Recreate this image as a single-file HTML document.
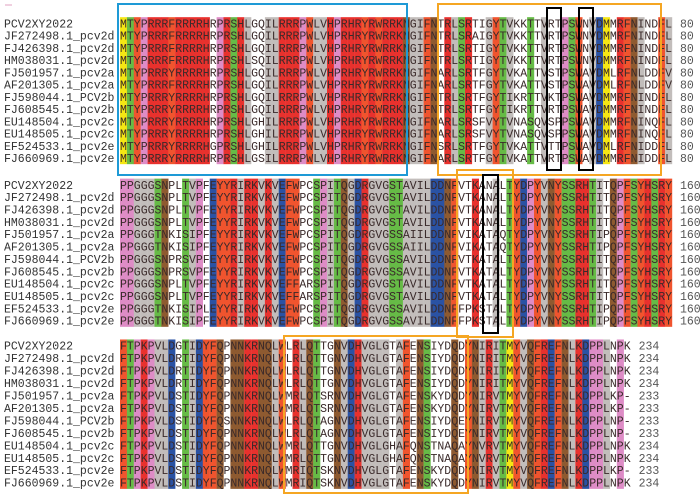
<!DOCTYPE html>
<html><head><meta charset="utf-8">
<style>
html,body{margin:0;padding:0;background:#fff;}
svg{display:block;font-family:"Liberation Mono",monospace;}
</style></head>
<body>
<svg id="aln" width="700" height="497" viewBox="0 0 700 497" xmlns="http://www.w3.org/2000/svg">
<rect x="0" y="0" width="700" height="497" fill="#fff"/>
<line x1="5" y1="5" x2="12" y2="5" stroke="#e0a0c0" stroke-width="1"/>
<g id="cells"></g>
<g id="texts"></g>
<g id="boxes"></g>
</svg>
<script>
const names = ["PCV2XY2022","JF272498.1_pcv2d","FJ426398.1_pcv2d","HM038031.1_pcv2d","FJ501957.1_pcv2a","AF201305.1_pcv2a","FJ598044.1_PCV2b","FJ608545.1_pcv2b","EU148504.1_pcv2c","EU148505.1_pcv2c","EF524533.1_pcv2e","FJ660969.1_pcv2e"];
const block1 = [
"MTYPRRRFRRRRHRPRSHLGQILRRRPWLVHPRHRYRWRRKNGIFNTRLSRTIGYTVKKTTVRTPSWNVDMMRFNINDFL",
"MTYPRRRFRRRRHRPRSHLGQILRRRPWLVHPRHRYRWRRKNGIFNTRLSRAIGYTVKKTTVRTPSWNVDMMRFNINDFL",
"MTYPRRRFRRRRHRPRSHLGQILRRRPWLVHPRHRYRWRRKNGIFNTRLSRTIGYTVKKTTVRTPSWNVDMMRFNINDFL",
"MTYPRRRFRRRRHRPRSHLSQILRRRPWLVHPRHRYRWRRKNGIFNTRLSRTIGYTVKKTTVRTPSWNVDMMRFNINDFL",
"MTYPRRRYRRRRHRPRSHLGQILRRRPWLVHPRHRYRWRRKNGIFNARLSRTFGYTVKATTVSTPSWAVDMLRFNLDDFV",
"MTYPRRRFRRRRHRPRSHLGQILRRRPWLVHPRHRYRWRRKNGIFNARLSRTFGYTVKATTVSTPSWAVDMLRFNLDDFV",
"MTYPRRRYRRRRHRPRSHLGQILRRRPWLVHPRHRYRWRRKNGIFNTRLSRTFGYTIKRTTVKTPSWAVDMMRFNINDFL",
"MTYPRRRYRRRRHRPRSHLGQILRRRPWLVHPRHRYRWRRKNGIFNTRLSRTFGYTIKRTTVRTPSWAVDMMRFNINDFL",
"MTYPRRRYRRRRHRPRSHLGHILRRRPWLVHPRHRYRWRRKNGIFNARLSRSFVYTVNASQVSPPSWAVDMMRFNINQFL",
"MTYPRRRYRRRRHRPRSHLGHILRRRPWLVHPRHRYRWRRKNGIFNARLSRSFVYTVNASQVSPPSWAVDMMRFNINQFL",
"MTYPRRRYRRRRHGPRSHLGHILRRRPWLVHPRHRYRWRRKNGIFNSRLSRTFGYTVKATTVTTPSWAVDMLRFNIDDFL",
"MTYPRRRYRRRRHRPRSHLGSILRRRPWLVHPRHRYRWRRKNGIFNARLSRTFGYTVKATTVRTPSWAVDMMRFNIDDFL"];
const block2 = [
"PPGGGSNPLTVPFEYYRIRKVKVEFWPCSPITQGDRGVGSTAVILDDNFVTKANALTYDPYVNYSSRHTITQPFSYHSRY",
"PPGGGSNPLTVPFEYYRIRKVKVEFWPCSPITQGDRGVGSTAVILDDNFVTKANALTYDPYVNYSSRHTITQPFSYHSRY",
"PPGGGSNPLTVPFEYYRIRKVKVEFWPCSPITQGDRGVGSTAVILDDNFVTKANALTYDPYVNYSSRHTITQPFSYHSRY",
"PPGGGSNPLTVPFEYYRIRKVKVEFWPCSPITQGDRGVGSTAVILDDNFVTKANALTYDPYVNYSSRHTITQPFSYHSRY",
"PPGGGTNKISIPFEYYRIRKVKVEFWPCSPITQGDRGVGSSAIILDDNFVIKATAQTYDPYVNYSSRHTIPQPFSYHSRY",
"PPGGGTNKISIPFEYYRIRKVKVEFWPCSPITQGDRGVGSSAIILDDNFVIKATAQTYDPYVNYSSRHTIPQPFSYHSRY",
"PPGGGSNPRSVPFEYYRIRKVKVEFWPCSPITQGDRGVGSSAVILDDNFVTKATALTYDPYVNYSSRHTITQPFSYHSRY",
"PPGGGSNPRSVPFEYYRIRKVKVEFWPCSPITQGDRGVGSSAVILDDNFVTKATALTYDPYVNYSSRHTITQPFSYHSRY",
"PPGGGSNPLTVPFEYYRIRKVKVEFFARSPITQGDRGVGSTAVILDDNFVTKATALTYDPYVNYSSRHTITQPFSYHSRY",
"PPGGGSNPLTVPFEYYRIRKVKVEFFARSPITQGDRGVGSTAVILDDNFVTKATALTYDPYVNYSSRHTITQPFSYHSRY",
"PPGGGTNKISIPLEYYRIRKVKVEFWPCSPITQGDRGVGSSAVILDDNFFPKSTALTYDPYVNYSSRHTIPQPFSYHSRY",
"PPGGGTNKISIPFEYYRIRKVKVEFWPCSPITQGDRGVGSSAVILDDNFFPKSTALTYDPYVNYSSRHTIPQPFSYHSRY"];
const block3 = [
"FTPKPVLDGTIDYFQPNNKRNQLWLRLQTTGNVDHVGLGTAFENSIYDQDYNIRITMYVQFREFNLKDPPLNPK",
"FTPKPVLDRTIDYFQPNNKRNQLWLRLQTTGNVDHVGLGTAFENSIYDQDYNIRITMYVQFREFNLKDPPLNPK",
"FTPKPVLDRTIDYFQPNNKRNQLWLRLQTTGNVDHVGLGTAFENSIYDQDYNIRITMYVQFREFNLKDPPLNPK",
"FTPKPVLDRTIDYFQPNNKRNQLWLRLQTTGNVDHVGLGTAFENSIYDQDYNIRITMYVQFREFNLKDPPLNPK",
"FTPKPVLDSTIDYFQPNNKRNQLWMRLQTSRNVDHVGLGTAFENSKYDQDYNIRVTMYVQFREFNLKDPPLKP-",
"FTPKPVLDSTIDYFQPNNKRNQLWMRLQTSRNVDHVGLGTAFENSKYDQDYNIRVTMYVQFREFNLKDPPLKP-",
"FTPKPVLDSTIDYFQSNNKRNQLWLRLQTAGNVDHVGLGTAFENSIYDQEYNIRVTMYVQFREFNLKDPPLNP-",
"FTPKPVLDSTIDYFQPNNKRNQLWLRLQTAGNVDHVGLGTAFENSIYDQEYNIRVTMYVQFREFNLKDPPLNP-",
"FTPKPVLDSTIDYFQPNNKRNQLWMRLQTTGNVDHVGLGHAFQNSTNAQAYNVRVTMYVQFREFNLKDPPLNPK",
"FTPKPVLDSTIDYFQPNNKRNQLWMRLQTTGNVDHVGLGHAFQNSTNAQAYNVRVTMYVQFREFNLKDPPLNPK",
"FTPKPVLDSTIDYFQPNNKRNQLWMRIQTSKNVDHVGLGTAFENSKYDQDYNIRVTMYVQFREFNLKDPPLKP-",
"FTPKPVLDSTIDYFQPNNKRNQLWMRIQTSKNVDHVGLGTAFENSKYDQDYNIRVTMYVQFREFNLKDPPLNPK"];
const ends = [["80","80","80","80","80","80","80","80","80","80","80","80"],
["160","160","160","160","160","160","160","160","160","160","160","160"],
["234","234","234","234","233","233","233","233","234","234","233","234"]];
const blockTops = [23.3, 184.8, 345.7];
const rowSteps = [12.25, 12.35, 12.45];

const CW = 6.9, X0 = 120;
const groups = {R:"r",K:"r",H:"r",F:"o",Y:"o",W:"o",I:"g",L:"g",V:"g",A:"g",G:"g",M:"y",N:"b",Q:"b",D:"d",E:"d",S:"s",T:"s",P:"p",C:"w"};
const gcol = {r:"#e8312d",o:"#f0542e",g:"#c2bdbb",y:"#f5e614",b:"#8e5a30",d:"#2a52a4",s:"#66bb46",p:"#de8cc6"};
const NS="http://www.w3.org/2000/svg";
const cells=document.getElementById('cells'), texts=document.getElementById('texts');
[block1,block2,block3].forEach((blk,bi)=>{
  const len=blk[0].length;
  for(let c=0;c<len;c++){
    const g0=groups[blk[0][c]];
    if(!g0||g0==="w") continue;
    let same=true;
    for(let r=0;r<blk.length;r++){ if(groups[blk[r][c]]!==g0){same=false;break;} }
    if(!same) continue;
    const rc=document.createElementNS(NS,'rect');
    rc.setAttribute('x',X0+c*CW); rc.setAttribute('width',CW+0.2);
    rc.setAttribute('y',blockTops[bi]-rowSteps[bi]/2); rc.setAttribute('height',rowSteps[bi]*12);
    rc.setAttribute('fill',gcol[g0]);
    
    
    cells.appendChild(rc);
  }
  blk.forEach((seq,ri)=>{
    const y=blockTops[bi]+ri*rowSteps[bi]+4;
    const nm=document.createElementNS(NS,'text');
    nm.setAttribute('x',4); nm.setAttribute('y',y); nm.setAttribute('font-size','11.5'); nm.setAttribute('fill','#333');
    nm.textContent=names[ri];
    
    
    texts.appendChild(nm);
    const sq=document.createElementNS(NS,'text');
    sq.setAttribute('x',X0); sq.setAttribute('y',y); sq.setAttribute('font-size','11.5'); sq.setAttribute('fill','#3a2a2a');
    sq.setAttribute('textLength',(seq.length*CW).toFixed(1)); sq.setAttribute('lengthAdjust','spacing');
    sq.textContent=seq;
    
    
    texts.appendChild(sq);
    const en=document.createElementNS(NS,'text');
    en.setAttribute('x',X0+seq.length*CW+8); en.setAttribute('y',y); en.setAttribute('font-size','11.5'); en.setAttribute('fill','#555');
    en.textContent=ends[bi][ri];
    
    
    texts.appendChild(en);
  });
});
const boxes=document.getElementById('boxes');
[[118,4,289,171,"#1e9ad6",2,"blue-highlight-box"],
 [438,4,223,171,"#f5a623",2,"orange-highlight-box-1"],
 [547,8,14,162,"#000",2,"black-box-1"],
 [579,8,14,162,"#000",2,"black-box-2"],
 [457,170,56,167,"#f5a623",2,"orange-highlight-box-2"],
 [483,175,15,158,"#000",2,"black-box-3"],
 [284,336,184,157,"#f5a623",2,"orange-highlight-box-3"]].forEach(b=>{
  const r=document.createElementNS(NS,'rect');
  r.setAttribute('x',b[0]); r.setAttribute('y',b[1]); r.setAttribute('width',b[2]); r.setAttribute('height',b[3]);
  r.setAttribute('fill','none'); r.setAttribute('stroke',b[4]); r.setAttribute('stroke-width',b[5]);
  
  
  boxes.appendChild(r);
});
</script>
</body></html>
